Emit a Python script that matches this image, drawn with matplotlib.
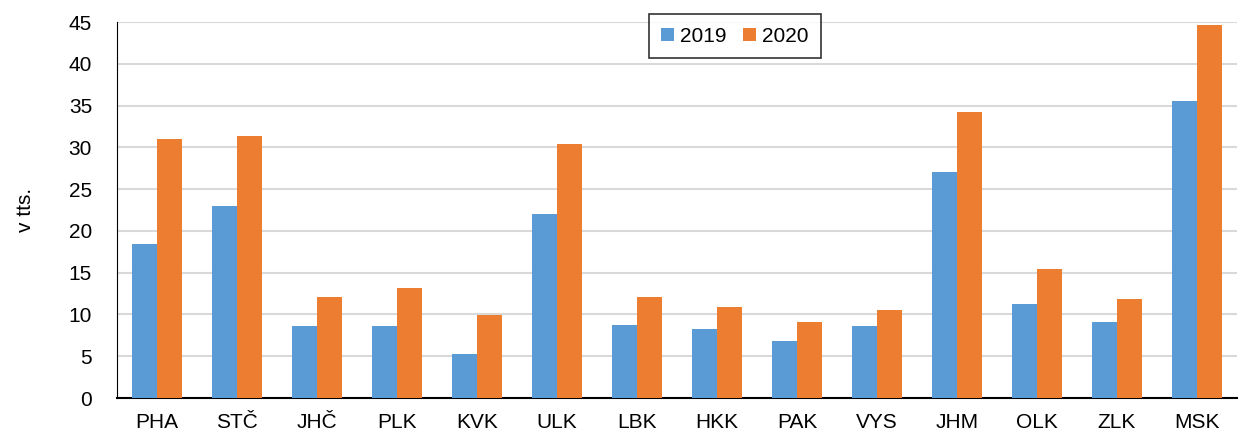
import numpy as np
import matplotlib.pyplot as plt

plt.rcParams['font.family'] = ['Liberation Sans', 'DejaVu Sans']

regions = ['PHA', 'STČ', 'JHČ', 'PLK', 'KVK', 'ULK', 'LBK', 'HKK', 'PAK',
           'VYS', 'JHM', 'OLK', 'ZLK', 'MSK']
v2019 = [18.4, 23.0, 8.6, 8.6, 5.3, 22.0, 8.7, 8.2, 6.8, 8.6, 27.0, 11.3, 9.1, 35.5]
v2020 = [31.0, 31.4, 12.1, 13.2, 9.9, 30.4, 12.1, 10.9, 9.1, 10.5, 34.2, 15.4, 11.8, 44.6]

fig = plt.figure(figsize=(12.39, 4.32), dpi=100)
ax = fig.add_axes([117/1239, 34/432, 1120/1239, 376/432])

x = np.arange(len(regions))
w = 0.315
ax.bar(x - w/2, v2019, w, color='#5b9bd5', label='2019', zorder=3)
ax.bar(x + w/2, v2020, w, color='#ed7d31', label='2020', zorder=3)

ax.set_xlim(-0.5, len(regions) - 0.5)
ax.set_ylim(0, 45)
ax.set_yticks(np.arange(0, 46, 5))
ax.set_xticks(x)
ax.set_xticklabels(regions)
ax.tick_params(axis='both', length=0, labelsize=15)
ax.tick_params(axis='x', pad=11)
ax.tick_params(axis='y', pad=18)
ax.grid(axis='y', color='#d9d9d9', linewidth=1.5, zorder=0)
for s in ['top', 'right']:
    ax.spines[s].set_visible(False)
ax.spines['left'].set_color('black')
ax.spines['bottom'].set_color('black')
ax.spines['bottom'].set_linewidth(1.5)
ax.set_ylabel('v tts.', fontsize=15, labelpad=24)

leg = fig.legend(loc='upper center', bbox_to_anchor=(735/1239, 1 - 14/432), ncol=2,
                 fontsize=15, frameon=True, fancybox=False, edgecolor='black',
                 handlelength=0.6, handleheight=0.6, handletextpad=0.3,
                 columnspacing=0.8, borderpad=0.6, borderaxespad=0)
leg.get_frame().set_linewidth(1.2)

fig.savefig('out.png', dpi=100)
